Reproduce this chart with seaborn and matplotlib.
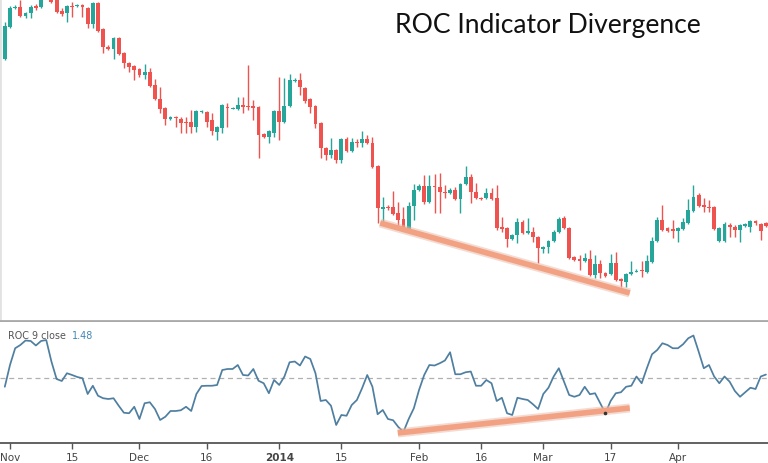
import numpy as np
import pandas as pd
import matplotlib
matplotlib.use("Agg")
import matplotlib.pyplot as plt
import seaborn as sns

# ---------------- data ----------------
# daily candles (Sunday-Friday sessions), starting 2013-10-31
n_candles = 148
opens = [262, 294, 313.5, 314, 305, 308, 315, 314, 329, 324, 323, 310, 308, 315.5, 315, 316,
         313, 297, 318, 292, 274, 272, 283, 268, 258, 255, 252, 246, 249, 236, 222, 213,
         202, 204, 202, 199, 199, 194, 209, 209, 201, 189, 193, 214, 212.5, 212, 216, 215,
         215, 214, 187, 184, 188, 210, 199, 215, 240.5, 241, 233, 222, 215, 198, 173, 166,
         171, 161, 182, 170, 179, 178, 182, 178, 155, 112, 114, 114, 108, 102, 91, 115,
         131, 135, 119, 135, 134, 129, 128, 131, 122, 137, 144, 129, 123, 123, 128, 123,
         94, 93, 82, 86, 99, 88, 89, 84, 72, 74, 80, 89, 103, 93, 64, 62,
         60, 62, 46, 57, 48, 47, 58, 42, 39, 47, 49.5, 51, 49, 59, 80, 101,
         93, 92, 90, 92, 98, 110, 126, 116, 114.5, 114, 80, 80, 96, 94, 91, 95,
         94, 100, 97, 98]
closes = [295, 313, 314.5, 305, 308, 314, 313.5, 323, 324, 319, 309, 307, 315, 314.5, 316, 314,
          297, 318, 290, 274, 272, 283, 267, 258, 254, 251, 246, 249, 235, 222, 212, 202,
          204, 203, 198, 198, 194, 210, 210, 199, 190, 194, 216, 213, 213.5, 216, 214, 214,
          213, 186, 184, 190, 210, 199, 215, 241, 241.5, 234, 220, 214, 197, 173, 166, 171,
          161, 182, 170, 179, 178, 182, 178, 154, 113, 114, 113, 107, 101, 91, 115, 131,
          135, 119, 135, 134, 129, 128, 131, 122, 137, 144, 129, 123, 122.2, 128, 122, 93,
          92, 82, 86, 99, 88, 90, 84, 73, 74, 80, 89, 102, 93, 63, 61, 60,
          63, 46, 57, 48, 45, 58, 41, 40, 47, 49, 50.5, 50, 60, 80, 101, 91,
          90, 90, 93, 99, 111, 124, 115, 114, 113.5, 92, 93, 97, 94, 91, 96, 97,
          100, 98, 90, 95]
highs = [299, 315, 316, 321, 309, 316, 317, 325, 333, 327, 325, 313, 316, 319, 317, 317,
         314, 319, 319, 293, 276, 284, 284, 269, 259, 256, 253, 257, 253, 242, 234, 214,
         205, 205, 204, 204, 211, 211, 211, 210, 208, 195, 217, 218, 214, 224, 224, 256,
         221, 215, 188, 191, 211, 244, 243, 247, 243, 248, 234, 223, 216, 199, 174, 183,
         172, 183, 184, 183, 182, 190, 186, 184, 156, 124, 116, 130, 119, 114, 119, 137,
         137, 146, 146, 147, 148, 136, 133, 134, 138, 155, 147, 138, 124, 133, 133, 136,
         104, 94, 87, 103, 101, 103, 94, 85, 75, 81, 91, 104, 105, 94, 65, 66,
         68, 71, 66, 61, 49, 67, 69, 43, 48, 60, 52, 60, 66, 84, 104, 116,
         94, 101, 94, 103, 122, 136, 128, 123, 121, 115, 94, 99, 98, 96, 97, 98,
         101, 101, 98, 99]
lows = [261, 293, 312, 304, 303, 303, 311, 313, 322, 318, 308, 305, 299, 304, 314, 304,
        293, 293, 289, 268, 271, 262, 266, 253, 249, 241, 244, 242, 234, 221, 208, 196,
        201, 194, 188, 188, 188, 189, 208, 194, 186, 181, 188, 194, 212, 211, 208, 211,
        201, 163, 183, 178, 184, 181, 198, 214, 239, 226, 218, 208, 193, 163, 161, 163,
        158, 158, 169, 169, 174, 174, 177, 153, 98, 99, 111, 106, 94, 90, 90, 101,
        130, 117, 118, 108, 108, 123, 127, 121, 108, 136, 118, 122, 121.5, 122, 121, 91,
        89, 74, 81, 78, 87, 87, 79, 58, 68, 68, 79, 88, 92, 62, 60, 51,
        59, 45, 43, 43, 44, 46, 40, 34, 34, 46, 49, 44, 48, 58, 79, 90,
        89, 83, 79, 91, 97, 109, 114, 109, 109, 91, 79, 79, 84, 84, 79, 94,
        89, 96, 81, 94]

roc = [-3.4, 5.3, 12.0, 13.3, 15.1, 14.9, 13.1, 14.9, 15.3, 6.7, -0.3, -1.1, 2.0, 1.3, 0.5, 0.0,
       -6.3, -3.0, -7.0, -8.0, -8.3, -8.0, -11.0, -13.8, -14.0, -11.4, -16.3, -10.0, -9.6, -12.3, -16.7, -15.4,
       -13.1, -13.1, -12.8, -11.4, -13.1, -6.3, -3.1, -3.0, -3.0, -2.7, 3.3, 3.7, 3.7, 5.3, 1.3, 1.1,
       3.7, -1.0, -2.0, -6.0, -0.7, -2.7, 0.7, 6.4, 6.7, 5.1, 8.7, 7.7, 2.0, -9.1, -8.7, -11.0,
       -18.7, -14.7, -15.0, -10.7, -8.7, -4.0, 1.3, -3.4, -14.4, -12.7, -16.3, -16.8, -19.5, -21.4, -16.3, -12.0,
       -4.7, 1.3, 5.3, 5.1, 6.0, 7.1, 10.4, 1.6, 1.6, 2.4, 2.7, -3.0, -3.0, -0.7, -2.0, -9.1,
       -7.8, -14.0, -14.7, -7.8, -8.3, -8.7, -10.4, -12.3, -6.3, -3.8, 0.7, 4.0, -1.4, -6.7, -7.4, -6.7,
       -3.4, -6.4, -6.0, -10.0, -14.0, -9.1, -6.0, -5.6, -3.4, -3.0, 0.7, -2.0, 4.0, 9.6, 11.3, 14.0,
       13.3, 12.0, 12.0, 13.6, 16.0, 17.1, 10.7, 4.0, 5.3, 0.7, -2.0, 0.7, -1.4, -5.1, -7.4, -5.6,
       -3.8, -4.3, 0.7, 1.48]

# x-axis labels
tick_dates = ["2013-11-01", "2013-11-15", "2013-12-01", "2013-12-16", "2014-01-01", "2014-01-15",
              "2014-02-02", "2014-02-16", "2014-03-02", "2014-03-17", "2014-04-01"]
tick_labels = ["Nov", "15", "Dec", "16", "2014", "15", "Feb", "16", "Mar", "17", "Apr"]

# divergence trend lines (candle index, value)
price_trend_idx = [72.5, 120.7]
price_trend_val = [98, 28]
roc_trend_idx = [75.9, 120.7]
roc_trend_val = [-21.9, -11.9]
roc_mark_idx = 116

title = "ROC Indicator Divergence"

# ---------------- build ----------------
all_days = pd.date_range("2013-10-31", "2014-05-31", freq="D")
days = all_days[all_days.dayofweek != 5][:n_candles]
idx = np.arange(n_candles)
df = pd.DataFrame({"idx": idx, "date": days, "open": opens, "high": highs,
                   "low": lows, "close": closes, "roc": roc})
tick_pos = [days.get_loc(pd.Timestamp(d)) for d in tick_dates]

UP = "#26a69a"
DOWN = "#ef5350"

sns.set_theme(style="white")
plt.rcParams["font.family"] = ["DejaVu Sans"]

W, H = 768, 463
fig = plt.figure(figsize=(W / 100, H / 100), dpi=100)
ax1 = fig.add_axes([0, (H - 321) / H, 1, 321 / H])
ax2 = fig.add_axes([0, (H - 443) / H, 1, 121 / H], sharex=ax1)

# candles
colors = np.where(df["close"] >= df["open"], UP, DOWN)
body_low = np.minimum(df["open"], df["close"])
body_h = np.maximum(np.abs(df["close"] - df["open"]), 1.0)
ax1.vlines(df["idx"], df["low"], df["high"], colors=colors, lw=1.0, zorder=2)
ax1.bar(df["idx"], body_h, bottom=body_low, width=0.74, color=colors, linewidth=0, zorder=3)

# price divergence line (with soft shadow)
ax1.plot(price_trend_idx, price_trend_val, color="#e8b8a6", lw=6.5, alpha=0.5,
         solid_capstyle="butt", zorder=4)
ax1.plot(price_trend_idx, price_trend_val, color="#f2a183", lw=4.0,
         solid_capstyle="butt", zorder=5)

ax1.set_ylim(0, 321)
ax1.set_xlim(-0.93, 147.4)
ax1.set_yticks([])
ax1.tick_params(axis="x", which="both", bottom=False, labelbottom=False)
for s in ["top", "right"]:
    ax1.spines[s].set_visible(False)
ax1.spines["left"].set_color("#e2e2e2")
ax1.spines["left"].set_linewidth(2)
ax1.spines["bottom"].set_color("#a9a9a9")
ax1.spines["bottom"].set_linewidth(2)

fig.text(395 / W, 1 - 26 / H, title, fontsize=19.1, family=["Lato", "DejaVu Sans"],
         ha="left", va="center", color="#111111")

# ROC panel
ax2.axhline(0, color="#b0b0b0", lw=0.9, ls=(0, (4, 3)), zorder=1)
sns.lineplot(data=df, x="idx", y="roc", ax=ax2, color="#4f7fa0", lw=1.25, zorder=3)
ax2.plot(roc_trend_idx, roc_trend_val, color="#e8b8a6", lw=6.5, alpha=0.5,
         solid_capstyle="butt", zorder=4)
ax2.plot(roc_trend_idx, roc_trend_val, color="#f2a183", lw=4.0,
         solid_capstyle="butt", zorder=5)
ax2.plot([roc_mark_idx], [df["roc"][roc_mark_idx]], "o", color="#333333", ms=1.6, zorder=6)

ax2.set_ylim(-25.9, 22.5)
ax2.set_yticks([])
ax2.set_xlabel("")
ax2.set_ylabel("")
ax2.set_xticks(tick_pos)
ax2.set_xticklabels(tick_labels)
for lab in ax2.get_xticklabels():
    lab.set_fontsize(7.5)
    lab.set_color("#444444")
    if lab.get_text() == "2014":
        lab.set_fontweight("bold")
ax2.tick_params(axis="x", bottom=True, direction="out", length=4, width=1,
                color="#555555", pad=3)
for s in ["top", "right", "left"]:
    ax2.spines[s].set_visible(False)
ax2.spines["bottom"].set_color("#555555")
ax2.spines["bottom"].set_linewidth(1.3)

ax2.text(8 / W, 0.885, "ROC 9 close", transform=ax2.transAxes, fontsize=6.9,
         color="#555555", ha="left", va="center")
ax2.text(72 / W, 0.885, f"{roc[-1]:.2f}", transform=ax2.transAxes, fontsize=6.9,
         color="#3f86b8", ha="left", va="center")

fig.savefig("out.png", dpi=100)
